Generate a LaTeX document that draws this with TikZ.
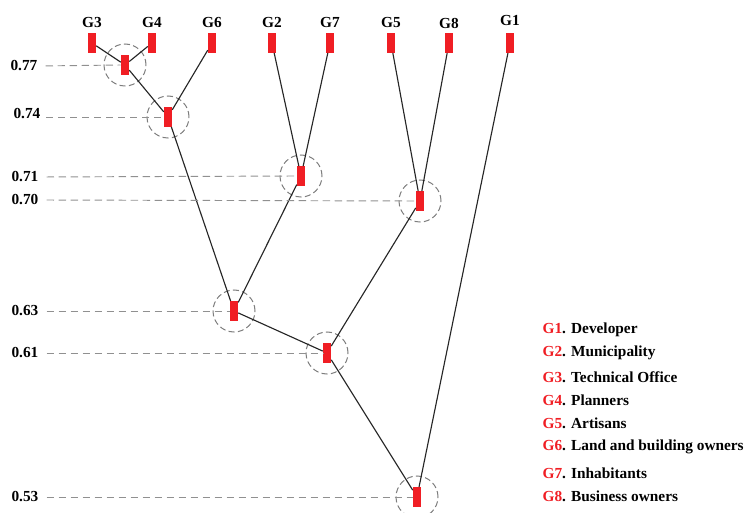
\documentclass[tikz,border=0pt]{standalone}
\usepackage{fontspec}
\setmainfont{Liberation Serif}
\usetikzlibrary{positioning}

\definecolor{grpred}{RGB}{240,30,36}
\definecolor{ringgray}{RGB}{125,125,125}

\tikzset{
  grp/.style={rectangle,fill=grpred,inner sep=0pt,minimum width=6pt,minimum height=14.5pt},
  ring/.style={circle,draw=ringgray,dash pattern=on 4.5pt off 2.5pt,line width=0.75pt,minimum size=31.5pt,inner sep=0pt},
  link/.style={line width=0.85pt,black!85},
  lvl/.style={draw=ringgray!85,dash pattern=on 5.5pt off 3.5pt,line width=0.7pt},
  txt/.style={font=\bfseries\fontsize{11.5}{13}\selectfont,inner sep=1pt},
}

\begin{document}
\begin{tikzpicture}[x=0.75pt,y=-0.75pt]

\useasboundingbox (0,0) rectangle (746,513);

\newcommand\TOP{43}

  %% groups (leaves)
  \node[grp] (G3) at ( 92,\TOP) {};
  \node[grp] (G4) at (152,\TOP) {};
  \node[grp] (G6) at (212,\TOP) {};
  \node[grp] (G2) at (272,\TOP) {};
  \node[grp] (G7) at (330,\TOP) {};
  \node[grp] (G5) at (391,\TOP) {};
  \node[grp] (G8) at (449,\TOP) {};
  \node[grp] (G1) at (510,\TOP) {};

  \node[txt] (tG3) at ( 92,23) {G3};
  \node[txt] (tG4) at (152,23) {G4};
  \node[txt] (tG6) at (212,23) {G6};
  \node[txt] (tG2) at (272,23) {G2};
  \node[txt] (tG7) at (330,23) {G7};
  \node[txt] (tG5) at (391,23) {G5};
  \node[txt] (tG8) at (449,23) {G8};
  \node[txt] (tG1) at (510,21) {G1};

  %% merges
  \node[grp] (n77) at (125, 65) {};
  \node[grp] (n74) at (168,117) {};
  \node[grp] (n71) at (301,176) {};
  \node[grp] (n70) at (420,201) {};
  \node[grp] (n63) at (234,311) {};
  \node[grp] (n61) at (327,353) {};
  \node[grp] (n53) at (417,497) {};

  \node[ring] (r77) at (n77) {};
  \node[ring] (r74) at (n74) {};
  \node[ring] (r71) at (n71) {};
  \node[ring] (r70) at (n70) {};
  \node[ring] (r63) at (n63) {};
  \node[ring] (r61) at (n61) {};
  \node[ring] (r53) at (n53) {};

  %% node to node
  \draw[link] (G3) -- (n77);
  \draw[link] (G4) -- (n77);
  \draw[link] (n77) -- (n74);
  \draw[link] (G6) -- (n74);
  \draw[link] (G2) -- (n71);
  \draw[link] (G7) -- (n71);
  \draw[link] (G5) -- (n70);
  \draw[link] (G8) -- (n70);
  \draw[link] (n74) -- (n63);
  \draw[link] (n71) -- (n63);
  \draw[link] (n63) -- (n61);
  \draw[link] (n70) -- (n61);
  \draw[link] (n61) -- (n53);
  \draw[link] (G1) -- (n53);

  %% similarity levels
  \node[txt,anchor=east] (v77) at (39, 66) {0.77};
  \node[txt,anchor=east] (v74) at (42,114) {0.74};
  \node[txt,anchor=east] (v71) at (40,177) {0.71};
  \node[txt,anchor=east] (v70) at (40,200) {0.70};
  \node[txt,anchor=east] (v63) at (40,311) {0.63};
  \node[txt,anchor=east] (v61) at (40,353) {0.61};
  \node[txt,anchor=east] (v53) at (40,497) {0.53};

  \draw[lvl,shorten <=5pt] (v77.east) -- (n77.west);
  \draw[lvl,shorten <=3pt] (v74.east |- n74) -- (n74.west);
  \draw[lvl,shorten <=5pt] (v71.east) -- (n71.west);
  \draw[lvl,shorten <=5pt] (v70.east) -- (n70.west);
  \draw[lvl,shorten <=5pt] (v63.east) -- (n63.west);
  \draw[lvl,shorten <=5pt] (v61.east) -- (n61.west);
  \draw[lvl,shorten <=5pt] (v53.east) -- (n53.west);

  %% legend
  \node[txt,anchor=west] (k1) at (541,330) {\textcolor{grpred}{G1}. Developer};
  \node[txt,anchor=west] (k2) at (541,353) {\textcolor{grpred}{G2}. Municipality};
  \node[txt,anchor=west] (k3) at (541,377) {\textcolor{grpred}{G3}. Technical Office};
  \node[txt,anchor=west] (k4) at (541,400) {\textcolor{grpred}{G4}. Planners};
  \node[txt,anchor=west] (k5) at (541,423) {\textcolor{grpred}{G5}. Artisans};
  \node[txt,anchor=west] (k6) at (541,447) {\textcolor{grpred}{G6}. Land and building owners};
  \node[txt,anchor=west] (k7) at (541,473) {\textcolor{grpred}{G7}. Inhabitants};
  \node[txt,anchor=west] (k8) at (541,496) {\textcolor{grpred}{G8}. Business owners};

\end{tikzpicture}
\end{document}
